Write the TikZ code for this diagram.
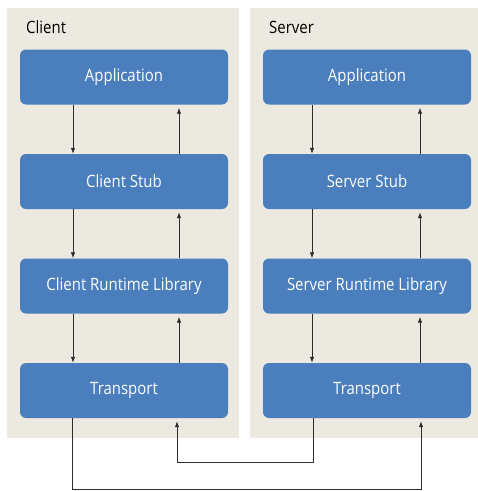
\documentclass[tikz,border=0pt]{standalone}
\usepackage{fontspec}
\setmainfont[FakeStretch=0.88]{Open Sans}
\usetikzlibrary{arrows.meta}
\definecolor{panelbg}{RGB}{236,233,224}
\definecolor{boxblue}{RGB}{74,126,189}
\definecolor{linegray}{RGB}{45,45,45}

\begin{document}
\begin{tikzpicture}[x=1pt,y=-1pt,
    panel/.style={fill=panelbg,draw=none},
    layer/.style={fill=boxblue,rounded corners=6pt,minimum width=208pt,minimum height=55pt,
      inner sep=0pt,text=white,font=\fontsize{17}{20}\selectfont},
    title/.style={anchor=base west,inner sep=0pt,font=\fontsize{17}{20}\selectfont},
    arr/.style={draw=linegray,line width=0.8pt,-{Latex[length=6pt,width=4.5pt]}}]
    \useasboundingbox (0,0) rectangle (478,491);

    \fill [panel] (7,8) rectangle (239,438);
    \node [title] (clienttitle) at (26,33) {Client};
    \fill [panel] (250,8) rectangle (478,438);
    \node [title] (servertitle) at (269,33) {Server};

    \node [layer] (capp) at (124,77) {Application};
    \node [layer] (cstub) at (124,181.5) {Client Stub};
    \node [layer] (crt) at (124,286) {Client Runtime Library};
    \node [layer] (ctr) at (124,390.5) {Transport};

    \node [layer] (sapp) at (367,77) {Application};
    \node [layer] (sstub) at (367,181.5) {Server Stub};
    \node [layer] (srt) at (367,286) {Server Runtime Library};
    \node [layer] (str) at (367,390.5) {Transport};

    \draw [arr] ([xshift=-51pt]capp.south) -- ([xshift=-51pt]cstub.north);
    \draw [arr] ([xshift=-51pt]cstub.south) -- ([xshift=-51pt]crt.north);
    \draw [arr] ([xshift=-51pt]crt.south) -- ([xshift=-51pt]ctr.north);
    \draw [arr, shorten >=3pt] ([xshift=55pt]cstub.north) -- ([xshift=55pt]capp.south);
    \draw [arr, shorten >=3pt] ([xshift=55pt]crt.north) -- ([xshift=55pt]cstub.south);
    \draw [arr, shorten >=3pt] ([xshift=55pt]ctr.north) -- ([xshift=55pt]crt.south);

    \draw [arr] ([xshift=-55pt]sapp.south) -- ([xshift=-55pt]sstub.north);
    \draw [arr] ([xshift=-55pt]sstub.south) -- ([xshift=-55pt]srt.north);
    \draw [arr] ([xshift=-55pt]srt.south) -- ([xshift=-55pt]str.north);
    \draw [arr, shorten >=3pt] ([xshift=53pt]sstub.north) -- ([xshift=53pt]sapp.south);
    \draw [arr, shorten >=3pt] ([xshift=53pt]srt.north) -- ([xshift=53pt]sstub.south);
    \draw [arr, shorten >=3pt] ([xshift=53pt]str.north) -- ([xshift=53pt]srt.south);

    \coordinate (midline) at (0,462);
    \coordinate (lowline) at (0,489);
    \draw [arr, shorten >=3pt] ([xshift=-54pt]str.south) |- ([xshift=53pt]ctr.south |- midline)
      -- ([xshift=53pt]ctr.south);
    \draw [arr, shorten >=3pt] ([xshift=-52pt]ctr.south) |- ([xshift=54pt]str.south |- lowline)
      -- ([xshift=54pt]str.south);
\end{tikzpicture}
\end{document}
